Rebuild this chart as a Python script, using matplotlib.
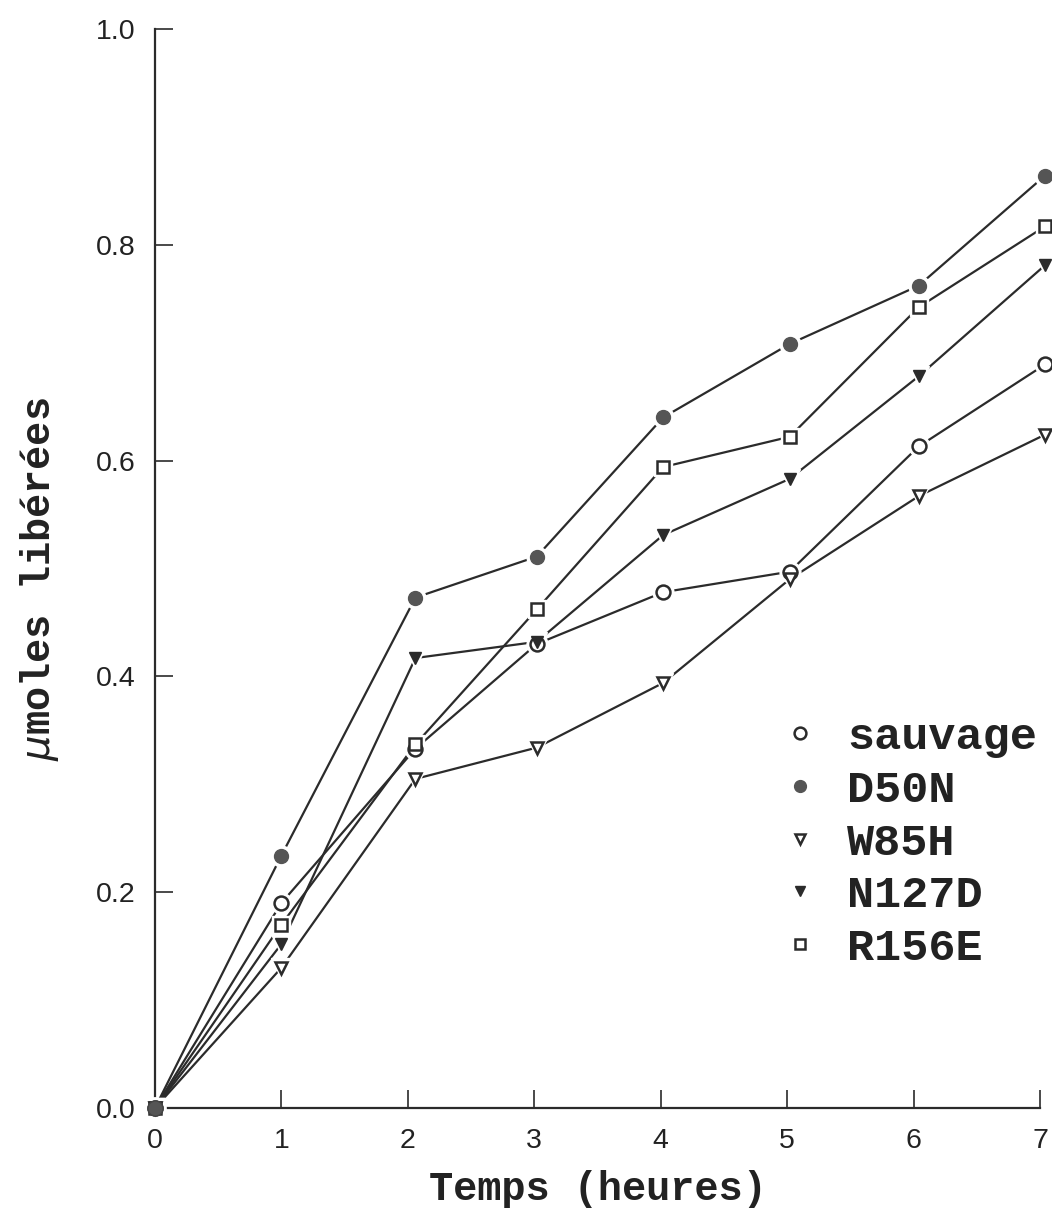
import matplotlib
matplotlib.use("Agg")
import matplotlib.pyplot as plt

# ---------------- DATA ----------------
temps = [0, 1, 2.06, 3.02, 4.02, 5.02, 6.04, 7.04]

sauvage = [0, 0.190, 0.333, 0.430, 0.478, 0.497, 0.613, 0.689]
d50n = [0, 0.234, 0.473, 0.511, 0.640, 0.708, 0.762, 0.864]
w85h = [0, 0.130, 0.305, 0.334, 0.394, 0.490, 0.567, 0.624]
n127d = [0, 0.152, 0.417, 0.432, 0.531, 0.583, 0.678, 0.781]
r156e = [0, 0.170, 0.337, 0.462, 0.594, 0.622, 0.742, 0.817]

labels = ["sauvage", "D50N", "W85H", "N127D", "R156E"]
series = [sauvage, d50n, w85h, n127d, r156e]

xticks = [0, 1, 2, 3, 4, 5, 6, 7]
yticks = [0.0, 0.2, 0.4, 0.6, 0.8, 1.0]

# ---------------- STYLE ----------------
ink = "#2b2b2b"
styles = [
    dict(marker="o", ms=10, mfc="white", mec=ink, mew=1.8),
    dict(marker="o", ms=10, mfc="#555555", mec="#555555", mew=1.0),
    dict(marker="v", ms=9, mfc="white", mec=ink, mew=1.8),
    dict(marker="v", ms=9, mfc=ink, mec=ink, mew=1.0),
    dict(marker="s", ms=8.5, mfc="white", mec=ink, mew=1.8),
]

mono = "Liberation Mono"

fig = plt.figure(figsize=(10.52, 12.32), dpi=100)
ax = fig.add_axes([0.1473, 0.1006, 0.8413, 0.876])

# ---------------- PLOT ----------------
for vals, lab, st in zip(series, labels, styles):
    ax.plot(temps, vals, color=ink, lw=1.6, zorder=2, clip_on=False)
    # white halo so the lines stop short of the markers
    ax.plot(temps, vals, ls="none", marker=st["marker"], ms=st["ms"] + 5,
            mfc="white", mec="white", zorder=3, clip_on=False)
    ax.plot(temps, vals, ls="none", label=lab, zorder=4, clip_on=False, **st)

# origin point
ax.plot([0], [0], ls="none", marker="o", ms=11, mfc="#555555", mec="#444444",
        zorder=5, clip_on=False)

ax.set_xlim(0, 7)
ax.set_ylim(0, 1.0)
ax.set_xticks(xticks)
ax.set_yticks(yticks)
ax.set_xticklabels([str(t) for t in xticks])
ax.set_yticklabels(["%.1f" % t for t in yticks])

for s in ["top", "right"]:
    ax.spines[s].set_visible(False)
for s in ["left", "bottom"]:
    ax.spines[s].set_color(ink)
    ax.spines[s].set_linewidth(1.6)

ax.tick_params(direction="in", length=13, width=1.2, color=ink,
               labelsize=20.5, labelcolor="#222222", pad=14)
for lbl in ax.get_xticklabels() + ax.get_yticklabels():
    lbl.set_fontfamily("Liberation Sans")

ax.set_xlabel("Temps (heures)", fontsize=29, fontfamily=mono,
              fontweight="bold", color="#222222", labelpad=12)
ax.set_ylabel(r"$\mu$moles libérées", fontsize=29, fontfamily=mono,
              fontweight="bold", color="#222222")
ax.yaxis.set_label_coords(-0.106, 0.49)

leg = ax.legend(loc="upper left", bbox_to_anchor=(0.693, 0.379), frameon=False,
                markerscale=0.85, handlelength=0.6, handletextpad=0.75,
                labelspacing=0.26, borderaxespad=0,
                prop={"family": mono, "weight": "bold", "size": 32.5})
for t in leg.get_texts():
    t.set_color("#222222")

plt.savefig("out.png", dpi=100)
